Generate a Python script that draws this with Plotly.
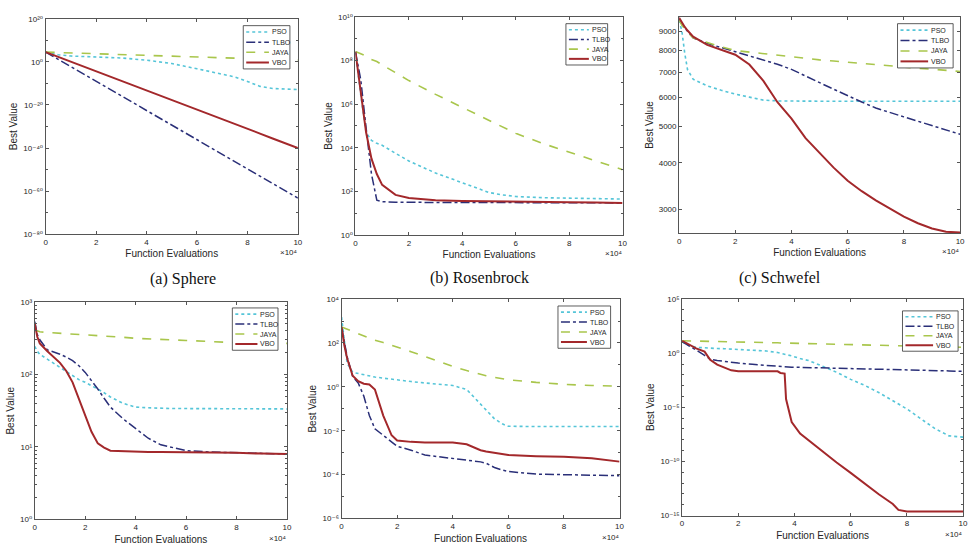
import plotly.graph_objects as go

# ---------------- data (x in units of 10^4 function evaluations) ----------------
methods = ["PSO", "TLBO", "JAYA", "VBO"]
captions = ["(a) Sphere", "(b) Rosenbrock", "(c) Schwefel"]
x_tick_vals = [0, 2, 4, 6, 8, 10]
x_tick_text = ["0", "2", "4", "6", "8", "10"]

# (a) Sphere
sphere_x = [0, 0.5, 1, 2, 3, 4, 5, 6, 7, 7.5, 8, 8.5, 9, 10]
sphere_pso = [3.2e4, 2e3, 5e2, 2e2, 6.3e1, 6e0, 1.6e-1, 6e-4, 1.6e-6, 1e-7, 8e-10, 4e-12, 4e-13, 1.3e-13]
sphere_tlbo = [3.2e4, 1.3e1, 5e-3, 1e-9, 1.6e-16, 2.5e-23, 4e-30, 8e-37, 1.3e-43, 5e-47, 2e-50, 1e-53, 4e-57, 6e-64]
sphere_jaya = [3.2e4, 2e4, 1.6e4, 8e3, 3.2e3, 1e3, 4e2, 1.6e2, 8e1, 5e1, 4e1, 2.5e1, 1.6e1, 6e0]
sphere_vbo = [3.2e4, 2e2, 1.1e0, 4e-5, 1.3e-9, 5e-14, 1.6e-18, 6e-23, 2e-27, 1.3e-29, 8e-32, 5e-34, 2.5e-36, 1e-40]

# (b) Rosenbrock
rosen_x = [0, 0.2, 0.4, 0.6, 0.8, 1, 1.5, 2, 3, 4, 5, 5.5, 6, 7, 8, 9, 10]
rosen_pso = [2.5e8, 2.5e6, 5e4, 2.2e4, 1.6e4, 1.3e4, 5.6e3, 2.5e3, 7e2, 2.5e2, 9e1, 7e1, 5.9e1, 5.2e1, 5e1, 4.7e1, 4.5e1]
rosen_tlbo = [2.5e8, 1.3e7, 8e4, 6.3e2, 4e1, 3.4e1, 3.2e1, 3.2e1, 3.2e1, 3.1e1, 3.1e1, 3.1e1, 3.1e1, 3.0e1, 3.0e1, 3.0e1, 3.0e1]
rosen_jaya = [2.6e8, 2e8, 1.6e8, 1.1e8, 9e7, 6.3e7, 2.8e7, 1.2e7, 2.8e6, 7.2e5, 1.8e5, 9e4, 4.6e4, 1.6e4, 6.3e3, 2.5e3, 1e3]
rosen_vbo = [2.5e8, 3.2e6, 5e4, 3.2e3, 6.3e2, 2e2, 7e1, 5e1, 4e1, 3.7e1, 3.5e1, 3.5e1, 3.4e1, 3.3e1, 3.2e1, 3.1e1, 3.0e1]

# (c) Schwefel
schw_x = [0, 0.1, 0.2, 0.3, 0.5, 1, 1.5, 2, 2.5, 3, 3.5, 4, 4.5, 5, 5.5, 6, 6.5, 7, 7.5, 8, 8.5, 9, 9.5, 10]
schw_pso = [9650, 9000, 7870, 7110, 6700, 6430, 6260, 6110, 6000, 5890, 5860, 5850, 5850, 5850, 5850, 5850, 5850, 5850, 5850, 5850, 5850, 5850, 5850, 5850]
schw_tlbo = [9700, 9400, 9200, 9000, 8650, 8360, 8150, 7950, 7750, 7560, 7350, 7120, 6850, 6560, 6300, 6050, 5820, 5610, 5450, 5310, 5170, 5030, 4900, 4770]
schw_jaya = [9650, 9350, 9150, 8950, 8650, 8400, 8180, 8000, 7920, 7840, 7760, 7680, 7610, 7550, 7500, 7440, 7390, 7330, 7270, 7220, 7170, 7130, 7080, 7030]
schw_vbo = [9790, 9500, 9250, 9050, 8710, 8280, 8040, 7795, 7336, 6630, 5815, 5256, 4656, 4254, 3882, 3581, 3357, 3173, 3016, 2867, 2754, 2666, 2613, 2603]

# (d)
d_x = [0, 0.1, 0.2, 0.5, 1, 1.25, 1.5, 1.75, 2, 2.25, 2.5, 2.75, 3, 3.5, 4, 4.5, 5, 5.5, 6, 7, 8, 9, 10]
d_pso = [245, 209, 190, 162, 126, 110, 95, 85, 78, 71, 63, 56, 49, 40, 35.5, 34.7, 33.9, 33.9, 33.9, 33.8, 33.7, 33.6, 33.5]
d_tlbo = [537, 355, 302, 219, 190, 174, 155, 132, 107, 83, 63, 47, 35.5, 24.5, 18.2, 13.2, 10.7, 9.8, 8.9, 8.5, 8.3, 8.1, 8.0]
d_jaya = [412, 398, 389, 380, 372, 367, 363, 359, 355, 351, 347, 343, 339, 327, 316, 309, 305, 302, 295, 285, 275, 272, 269]
d_vbo = [513, 331, 269, 209, 145, 112, 78, 47, 27.5, 16.2, 11.2, 9.8, 8.9, 8.7, 8.5, 8.5, 8.5, 8.5, 8.5, 8.4, 8.3, 8.1, 8.0]

# (e)
e_x = [0, 0.1, 0.2, 0.4, 0.6, 0.8, 1, 1.2, 1.5, 1.8, 2, 2.5, 3, 3.5, 4, 4.5, 5, 5.2, 5.5, 5.8, 6, 7, 8, 9, 9.5, 10]
e_pso = [1500, 95, 12, 4.6, 4.0, 3.6, 3.0, 2.8, 2.5, 2.2, 2.0, 1.74, 1.5, 1.3, 1.15, 0.76, 0.16, 0.089, 0.035, 0.020, 0.016, 0.0155, 0.0155, 0.0155, 0.0155, 0.0155]
e_tlbo = [537, 100, 24, 3.0, 1.5, 0.38, 0.049, 0.0123, 0.0062, 0.0032, 0.00195, 0.00129, 0.00078, 0.00065, 0.00055, 0.00047, 0.00038, 0.00033, 0.00021, 0.000158, 0.000138, 0.000105, 0.000098, 0.000091, 0.000089, 0.000089]
e_jaya = [537, 479, 427, 331, 263, 200, 158, 132, 105, 79, 68, 40, 24, 14.1, 8.5, 5.5, 3.6, 3.2, 2.7, 2.3, 2.1, 1.6, 1.3, 1.15, 1.1, 1.07]
e_vbo = [537, 79, 20, 3.2, 1.8, 1.38, 1.29, 0.76, 0.049, 0.0062, 0.0036, 0.0031, 0.0029, 0.0029, 0.0029, 0.0024, 0.00129, 0.00112, 0.00098, 0.00083, 0.00078, 0.00069, 0.00065, 0.00055, 0.00047, 0.00039]

# (f)
f_x = [0, 0.25, 0.5, 0.8, 1, 1.25, 1.5, 1.75, 2, 2.5, 3, 3.4, 3.5, 3.65, 3.7, 3.8, 3.9, 4.2, 4.5, 5, 5.5, 6, 6.5, 7, 7.5, 7.7, 8, 8.5, 9, 9.5, 10]
f_pso = [11.5, 5.0, 3.5, 3.0, 2.8, 2.7, 2.6, 2.45, 2.3, 2.0, 1.6, 1.15, 1.0, 0.83, 0.79, 0.66, 0.56, 0.32, 0.21, 0.062, 0.0174, 0.0038, 0.00107, 0.00023, 4.1e-5, 2e-5, 7.1e-6, 8.7e-7, 1.07e-7, 2.3e-8, 1.74e-8]
f_tlbo = [11.5, 5.0, 2.0, 0.63, 0.28, 0.21, 0.17, 0.145, 0.123, 0.093, 0.071, 0.060, 0.059, 0.056, 0.055, 0.054, 0.051, 0.049, 0.047, 0.044, 0.041, 0.038, 0.036, 0.035, 0.034, 0.034, 0.033, 0.030, 0.026, 0.023, 0.021]
f_jaya = [14.1, 13.8, 13.2, 12.6, 12.0, 11.7, 11.5, 11.2, 11.0, 10.2, 9.5, 9.1, 8.9, 8.7, 8.7, 8.5, 8.5, 8.1, 7.9, 7.6, 7.1, 6.6, 6.2, 5.8, 5.2, 5.0, 4.7, 4.3, 4.0, 3.7, 3.5]
f_vbo = [14.1, 6.3, 2.8, 1.41, 0.245, 0.087, 0.044, 0.026, 0.021, 0.021, 0.021, 0.021, 0.015, 0.0132, 5.8e-5, 3.5e-6, 4.4e-7, 3.8e-8, 8.9e-9, 8.1e-10, 7.9e-11, 8.7e-12, 8.9e-13, 9.3e-14, 1.15e-14, 3.3e-15, 2.3e-15, 2.3e-15, 2.3e-15, 2.3e-15, 2.3e-15]

# y tick labels
sphere_ytick_exp = [-80, -60, -40, -20, 0, 20]
rosen_ytick_exp = [0, 2, 4, 6, 8, 10]
schw_ytick_vals = [3000, 4000, 5000, 6000, 7000, 8000, 9000]
d_ytick_exp = [0, 1, 2, 3]
e_ytick_exp = [-6, -4, -2, 0, 2, 4]
f_ytick_exp = [-15, -10, -5, 0, 5]

# ---------------- styling / layout ----------------
W, H = 976, 551
def px(x):
    return x / W
def py(y):
    return 1 - y / H

SUP = str.maketrans("0123456789-", "\u2070\u00b9\u00b2\u00b3\u2074\u2075\u2076\u2077\u2078\u2079\u207b")

styles = [
    dict(color="#55c5d8", dash="dot", width=1.6),
    dict(color="#2a2f78", dash="dashdot", width=1.5),
    dict(color="#a9c64c", dash="dash", width=1.6),
    dict(color="#a3282b", dash="solid", width=2.0),
]

def exp_labels(exps):
    return [10.0 ** e for e in exps], ["10" + str(e).translate(SUP) for e in exps]

panels = [
    dict(box=(44, 15, 298, 234), x=sphere_x, ys=[sphere_pso, sphere_tlbo, sphere_jaya, sphere_vbo],
         yr=[-80, 20], ticks=exp_labels(sphere_ytick_exp),
         minor=[10.0 ** e for e in range(-70, 20, 20)], leg=(243, 22, 290, 66)),
    dict(box=(356, 13, 625, 235), x=rosen_x, ys=[rosen_pso, rosen_tlbo, rosen_jaya, rosen_vbo],
         yr=[0, 10], ticks=exp_labels(rosen_ytick_exp),
         minor=[10.0 ** e for e in range(1, 10, 2)], leg=(568, 20, 610, 62)),
    dict(box=(682, 13, 965, 233), x=schw_x, ys=[schw_pso, schw_tlbo, schw_jaya, schw_vbo],
         yr=[3.4133, 3.9935], ticks=(schw_ytick_vals, [str(v) for v in schw_ytick_vals]),
         minor=[], leg=(902, 20, 958, 65)),
    dict(box=(33, 303, 287, 524), x=d_x, ys=[d_pso, d_tlbo, d_jaya, d_vbo],
         yr=[0, 3], ticks=exp_labels(d_ytick_exp),
         minor=[m * 10.0 ** e for e in range(0, 3) for m in range(2, 10)], leg=(232, 309, 278, 352)),
    dict(box=(342, 300, 622, 523), x=e_x, ys=[e_pso, e_tlbo, e_jaya, e_vbo],
         yr=[-6, 4], ticks=exp_labels(e_ytick_exp),
         minor=[10.0 ** e for e in range(-5, 4, 2)], leg=(560, 307, 613, 350)),
    dict(box=(685, 300, 968, 520), x=f_x, ys=[f_pso, f_tlbo, f_jaya, f_vbo],
         yr=[-15, 5], ticks=exp_labels(f_ytick_exp),
         minor=[10.0 ** e for e in range(-14, 5) if e % 5 != 0], leg=(907, 312, 963, 353)),
]

AX = "#555555"
TXT = "#262626"
FONT = "Liberation Sans, DejaVu Sans, Arial, sans-serif"

fig = go.Figure()
layout = dict(width=W, height=H, margin=dict(l=0, r=0, t=0, b=0),
              paper_bgcolor="white", plot_bgcolor="white", showlegend=False,
              font=dict(family=FONT, size=8, color=TXT))
shapes, annotations = [], []

for i, p in enumerate(panels):
    n = "" if i == 0 else str(i + 1)
    xa, ya = "x" + n, "y" + n
    for name, yv, st in zip(methods, p["ys"], styles):
        fig.add_trace(go.Scatter(x=p["x"], y=yv, name=name, mode="lines", line=st,
                                 xaxis=xa, yaxis=ya, showlegend=False))
    x0, y0, x1, y1 = p["box"]
    layout["xaxis" + n] = dict(
        domain=[px(x0), px(x1)], anchor=ya, range=[0, 10],
        tickvals=x_tick_vals, ticktext=x_tick_text, ticks="inside", ticklen=3,
        tickcolor=AX, showline=True, linecolor=AX, linewidth=1, mirror="ticks",
        showgrid=False, zeroline=False, tickfont=dict(size=8, color=TXT),
        title=dict(text="Function Evaluations", font=dict(size=10, color=TXT), standoff=4),
    )
    tv, tt = p["ticks"]
    layout["yaxis" + n] = dict(
        domain=[py(y1), py(y0)], anchor=xa, type="log", range=p["yr"],
        tickvals=tv, ticktext=tt, ticks="inside", ticklen=3, tickcolor=AX,
        showline=True, linecolor=AX, linewidth=1, mirror="ticks",
        showgrid=False, zeroline=False, tickfont=dict(size=8, color=TXT),
        minor=dict(tickvals=p["minor"], ticks="inside", ticklen=2, tickcolor=AX, showgrid=False),
        title=dict(text="Best Value", font=dict(size=10, color=TXT), standoff=3),
    )
    # x10^4 multiplier
    annotations.append(dict(text="\u00d710\u2074", x=px(x1 + 2), y=py(y1 + 19), xref="paper",
                            yref="paper", xanchor="right", yanchor="middle", showarrow=False,
                            font=dict(size=8, color=TXT)))
    # legend box (MATLAB-like)
    lx0, ly0, lx1, ly1 = p["leg"]
    shapes.append(dict(type="rect", xref="paper", yref="paper", x0=px(lx0), x1=px(lx1),
                       y0=py(ly1), y1=py(ly0), fillcolor="white",
                       line=dict(color="#333333", width=0.8), layer="above"))
    lw = lx1 - lx0
    rowh = (ly1 - ly0) / 4.25
    for k, (name, st) in enumerate(zip(methods, styles)):
        ry = ly0 + rowh * (k + 0.62)
        shapes.append(dict(type="line", xref="paper", yref="paper",
                           x0=px(lx0 + 3), x1=px(lx0 + 0.55 * lw), y0=py(ry), y1=py(ry),
                           line=dict(color=st["color"], dash=st["dash"], width=st["width"]),
                           layer="above"))
        annotations.append(dict(text=name, x=px(lx0 + 0.57 * lw), y=py(ry), xref="paper",
                                yref="paper", xanchor="left", yanchor="middle", showarrow=False,
                                font=dict(size=7, color=TXT)))

# captions under the top row
cap_pos = [(182, 280), (481, 279), (784, 279)]
for cap, (cx, cy) in zip(captions, cap_pos):
    annotations.append(dict(text=cap, x=px(cx), y=py(cy), xref="paper", yref="paper",
                            xanchor="center", yanchor="middle", showarrow=False,
                            font=dict(family="Liberation Serif, Times New Roman, serif",
                                      size=16, color="#111111")))

layout["shapes"] = shapes
layout["annotations"] = annotations
fig.update_layout(**layout)
fig.write_html("out.html", config={"displayModeBar": False},
               post_script="document.body.style.margin='0';")
